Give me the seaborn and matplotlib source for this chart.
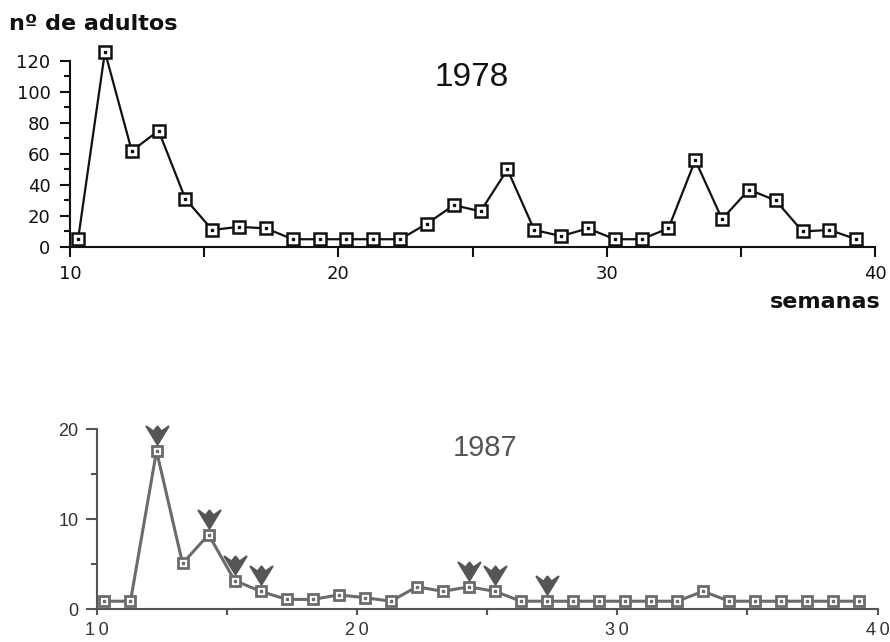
import numpy as np
import pandas as pd
import matplotlib
matplotlib.use("Agg")
import matplotlib.pyplot as plt
from matplotlib.path import Path
from matplotlib.ticker import MultipleLocator
import seaborn as sns

# ---------------- data ----------------
weeks_1978 = [10.3, 11.3, 12.3, 13.3, 14.3, 15.3, 16.3, 17.3, 18.3, 19.3,
              20.3, 21.3, 22.3, 23.3, 24.3, 25.3, 26.3, 27.3, 28.3, 29.3,
              30.3, 31.3, 32.3, 33.3, 34.3, 35.3, 36.3, 37.3, 38.3, 39.3]
adults_1978 = [5, 126, 62, 75, 31, 11, 13, 12, 5, 5,
               5, 5, 5, 15, 27, 23, 50, 11, 7, 12,
               5, 5, 12, 56, 18, 37, 30, 10, 11, 5]

weeks_1987 = [10.3, 11.3, 12.3, 13.3, 14.3, 15.3, 16.3, 17.3, 18.3, 19.3,
              20.3, 21.3, 22.3, 23.3, 24.3, 25.3, 26.3, 27.3, 28.3, 29.3,
              30.3, 31.3, 32.3, 33.3, 34.3, 35.3, 36.3, 37.3, 38.3, 39.3]
adults_1987 = [0.9, 0.9, 17.6, 5.1, 8.3, 3.2, 2.0, 1.1, 1.1, 1.6,
               1.3, 0.9, 2.5, 2.0, 2.5, 2.0, 0.9, 0.9, 0.9, 0.9,
               0.9, 0.9, 0.9, 2.0, 0.9, 0.9, 0.9, 0.9, 0.9, 0.9]
arrow_weeks_1987 = [12.3, 14.3, 15.3, 16.3, 24.3, 25.3, 27.3]

x_ticks = [10, 20, 30, 40]
y_ticks_1978 = [0, 20, 40, 60, 80, 100, 120]
y_ticks_1987 = [0, 10, 20]

df78 = pd.DataFrame({"semana": weeks_1978, "adultos": adults_1978})
df87 = pd.DataFrame({"semana": weeks_1987, "adultos": adults_1987})
arr87 = df87[df87["semana"].isin(arrow_weeks_1987)]

# ---------------- style ----------------
sns.set_theme(style="white")
plt.rcParams["font.family"] = ["DejaVu Sans"]

fig = plt.figure(figsize=(8.9, 6.42), dpi=100)

# custom down-pointing arrow marker (drawn above the point)
av = [(0, 7), (-11, 25), (-4, 20), (0, 25), (4, 20), (11, 25), (0, 7)]
arrow_marker = Path(av, [Path.MOVETO] + [Path.LINETO] * 5 + [Path.CLOSEPOLY])

# ---------------- top panel (1978) ----------------
ax1 = fig.add_axes([0.0787, 0.6153, 0.9045, 0.2897])
col1 = "#111111"
sns.lineplot(data=df78, x="semana", y="adultos", ax=ax1, color=col1,
             linewidth=1.6, marker="s", markersize=8.5, markerfacecolor="white",
             markeredgecolor=col1, markeredgewidth=1.8, clip_on=False, zorder=3)
ax1.plot(df78["semana"], df78["adultos"], linestyle="none", marker="s",
         markersize=1.8, color=col1, clip_on=False, zorder=4)
ax1.set_xlim(10, 40)
ax1.set_ylim(0, 120)
ax1.set_xticks(x_ticks)
ax1.xaxis.set_minor_locator(MultipleLocator(5))
ax1.set_yticks(y_ticks_1978)
ax1.yaxis.set_minor_locator(MultipleLocator(10))
for s in ["top", "right"]:
    ax1.spines[s].set_visible(False)
for s in ["left", "bottom"]:
    ax1.spines[s].set_color(col1)
    ax1.spines[s].set_linewidth(1.5)
ax1.tick_params(axis="both", which="major", direction="out", length=7, width=1.5,
                color=col1, labelsize=13, labelcolor=col1, bottom=True, left=True)
ax1.tick_params(axis="both", which="minor", direction="out", length=4, width=1.5,
                color=col1, bottom=True, left=True)
ax1.tick_params(axis="x", which="minor", length=7)
ax1.tick_params(axis="x", which="major", pad=6)
ax1.tick_params(axis="y", which="major", pad=7)
ax1.set_xlabel("")
ax1.set_ylabel("")
ax1.set_facecolor("white")

fig.text(472 / 890, 1 - 78 / 642, "1978", fontsize=24, color=col1,
         ha="center", va="center", family="Liberation Sans")
fig.text(9 / 890, 1 - 24 / 642, "nº de adultos", fontsize=16, fontweight="bold",
         color=col1, ha="left", va="center")
fig.text(881 / 890, 1 - 302 / 642, "semanas", fontsize=16, fontweight="bold",
         color=col1, ha="right", va="center")

# ---------------- bottom panel (1987) ----------------
ax2 = fig.add_axes([0.1086, 0.0509, 0.8775, 0.2804])
col2 = "#6b6b6b"
sns.lineplot(data=df87, x="semana", y="adultos", ax=ax2, color=col2,
             linewidth=2.2, marker="s", markersize=7.5, markerfacecolor="white",
             markeredgecolor=col2, markeredgewidth=2.0, clip_on=False, zorder=3)
ax2.plot(df87["semana"], df87["adultos"], linestyle="none", marker="s",
         markersize=1.8, color=col2, clip_on=False, zorder=4)
ax2.plot(arr87["semana"], arr87["adultos"], linestyle="none", marker=arrow_marker,
         markersize=36, color="#555555", markeredgecolor="#555555",
         markeredgewidth=1.5, clip_on=False, zorder=5)
ax2.set_xlim(10, 40)
ax2.set_ylim(0, 20)
ax2.set_xticks(x_ticks)
ax2.set_xticklabels(["\u2009".join(str(t)) for t in x_ticks])
ax2.xaxis.set_minor_locator(MultipleLocator(5))
ax2.set_yticks(y_ticks_1987)
ax2.yaxis.set_minor_locator(MultipleLocator(5))
for s in ["top", "right"]:
    ax2.spines[s].set_visible(False)
for s in ["left", "bottom"]:
    ax2.spines[s].set_color("#555555")
    ax2.spines[s].set_linewidth(1.5)
ax2.tick_params(axis="both", which="major", direction="out", length=8, width=1.5,
                color="#555555", labelsize=13, labelcolor="#333333",
                bottom=True, left=True)
ax2.tick_params(axis="both", which="minor", direction="out", length=4, width=1.5,
                color="#555555", bottom=True, left=True)
ax2.tick_params(axis="x", which="major", length=4, pad=5, labelsize=13)
ax2.tick_params(axis="y", which="major", pad=5)
for lab in ax2.get_xticklabels() + ax2.get_yticklabels():
    lab.set_family("Liberation Sans")
ax2.set_xlabel("")
ax2.set_ylabel("")
ax2.set_facecolor("white")

fig.text(485 / 890, 1 - 448 / 642, "1987", fontsize=21, color="#555555",
         ha="center", va="center", family="Liberation Sans")

fig.savefig("out.png", dpi=100, facecolor="white")
